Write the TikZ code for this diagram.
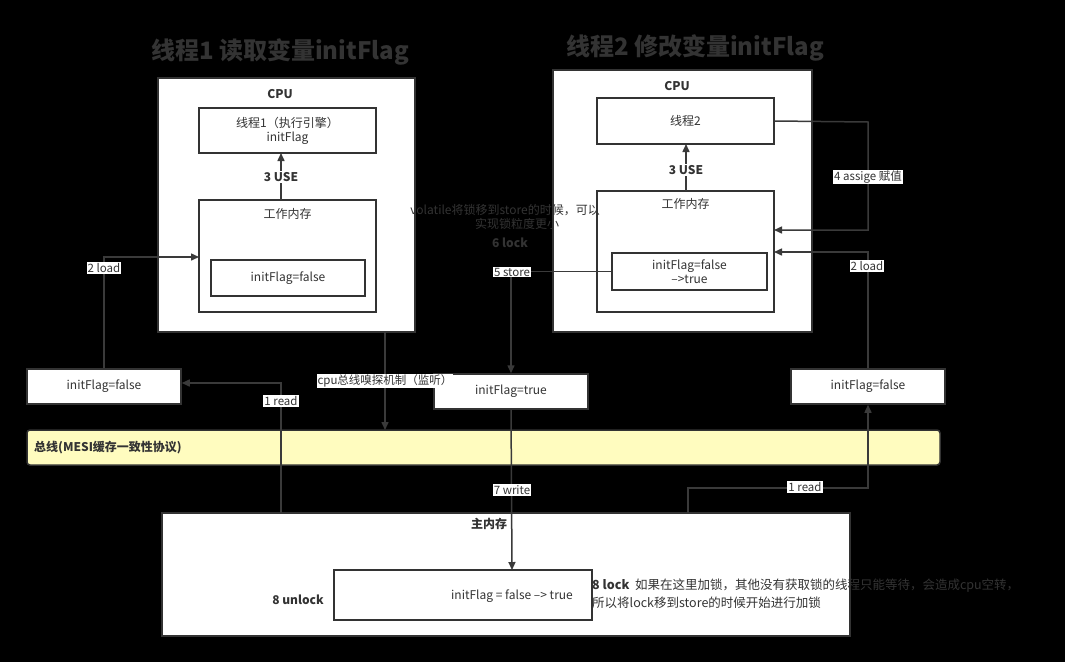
\documentclass[tikz,border=0pt]{standalone}
\usepackage{fontspec}
\setmainfont{Noto Sans CJK SC}
\usetikzlibrary{arrows.meta}
\definecolor{ink}{HTML}{333333}
\definecolor{lin}{HTML}{3a3a3a}
\begin{document}
\begin{tikzpicture}[x=1pt,y=-1pt,font=\fontsize{12}{14}\selectfont,
  box/.style={draw=ink,fill=white,line width=1.5pt,text=ink,align=center,inner sep=0pt},
  bigbox/.style={draw=ink,fill=white,line width=1.5pt},
  lab/.style={fill=white,text=ink,inner sep=1pt,font=\fontsize{11.5}{13}\selectfont},
  blab/.style={text=ink,font=\bfseries\fontsize{12}{14}\selectfont,inner sep=1pt},
  arr/.style={draw=lin,line width=1.5pt,-{Triangle[length=8pt,width=7pt]}},
  dim/.style={text=ink,align=center,inner sep=0pt,font=\fontsize{12}{14}\selectfont}]
\fill[black] (0,0) rectangle (1065,662);
\useasboundingbox (0,0) rectangle (1065,662);
% titles
\node[text=ink,font=\bfseries\fontsize{24}{26}\selectfont] (t1) at (280,52) {线程1 读取变量initFlag};
\node[text=ink,font=\bfseries\fontsize{24}{26}\selectfont] (t2) at (695,48) {线程2 修改变量initFlag};
% CPU1
\node[bigbox,minimum width=257pt,minimum height=254pt] (cpu1) at (286.5,205) {};
\node[blab] (c1) at (280,94) {CPU};
\node[box,minimum width=177pt,minimum height=45pt] (th1) at (287.5,130.5) {线程1（执行引擎）\\initFlag};
\node[box,minimum width=177pt,minimum height=112pt] (wm1) at (287.5,256) {};
\node[dim] (wm1t) at (287.5,214) {工作内存};
\node[box,minimum width=154pt,minimum height=36pt] (in1) at (288,278) {initFlag=false};
\draw[arr] (281,200) -- (281,153);
\node[blab,fill=white] (u1) at (281,177) {3 USE};
% CPU2
\node[bigbox,minimum width=259pt,minimum height=262pt] (cpu2) at (682.5,201) {};
\node[blab] (c2) at (677,86) {CPU};
\node[box,minimum width=177pt,minimum height=46pt] (th2) at (685.5,121) {线程2};
\node[box,minimum width=177pt,minimum height=121pt] (wm2) at (685.5,251.5) {};
\node[dim] (wm2t) at (685.5,204) {工作内存};
\node[box,minimum width=155pt,minimum height=37pt] (in2) at (689.5,271.5) {initFlag=false\\-->true};
\draw[arr] (686,191) -- (686,144);
\node[blab,fill=white] (u2) at (686,170) {3 USE};
% caches
\node[box,minimum width=154pt,minimum height=35pt] (ca1) at (104,386.5) {initFlag=false};
\node[box,minimum width=154pt,minimum height=35pt] (ca2) at (511,391.5) {initFlag=true};
\node[box,minimum width=154pt,minimum height=35pt] (ca3) at (868,386.5) {initFlag=false};
% bus
\node[draw=ink,fill=yellow!25,line width=1.5pt,rounded corners=3pt,minimum width=913pt,minimum height=35pt] (bus) at (483.5,447.5) {};
\node[blab,anchor=west] (busl) at (33,448) {总线(MESI缓存一致性协议)};
% main memory
\node[bigbox,minimum width=688pt,minimum height=123pt] (mm) at (506,574.5) {};
\node[blab] (mmt) at (489,524) {主内存};
\node[box,minimum width=258pt,minimum height=50pt] (mi) at (463,595) {};
\node[dim] (mit) at (512,596) {initFlag = false --> true};
\node[blab] (ul) at (298,600) {8 unlock};
\node[text=ink,anchor=north west,align=left,inner sep=0pt,font=\fontsize{12.5}{18}\selectfont] (note) at (592,579) {\textbf{8 lock}\ \ 如果在这里加锁，其他没有获取锁的线程只能等待，会造成cpu空转，\\所以将lock移到store的时候开始进行加锁};
% connectors
\draw[arr] (ca1.north) |- (199,257);
\node[lab] (l2a) at (104,268) {2 load};
\draw[arr] (281,513) |- (ca1.east |- 0,383);
\node[lab] (l1a) at (281,401) {1 read};
\draw[arr] (385,332) -- (385,430);
\node[lab] (sn) at (385,381) {cpu总线嗅探机制（监听）};
\draw[arr] (in2.west) -| (ca2.north);
\node[lab] (st) at (512,272) {5 store};
\draw[arr] (ca2.south) -- (512,570);
\node[lab] (wr) at (512,490) {7 write};
\draw[arr] (th2.east) -- (868,122) -- (868,230) -- (774,230);
\node[lab] (as) at (868,177) {4 assige 赋值};
\draw[arr] (ca3.north) |- (774,252);
\node[lab] (l2b) at (867,266) {2 load};
\draw[arr] (688,513) |- (868,488) -- (ca3.south);
\node[lab] (l1b) at (805,487) {1 read};
\node[dim] (vol) at (505,217) {volatile将锁移到store的时候，可以\\\hspace*{2em}实现锁粒度更小};
\node[blab] (lk) at (510,243) {6 lock};
\end{tikzpicture}
\end{document}
